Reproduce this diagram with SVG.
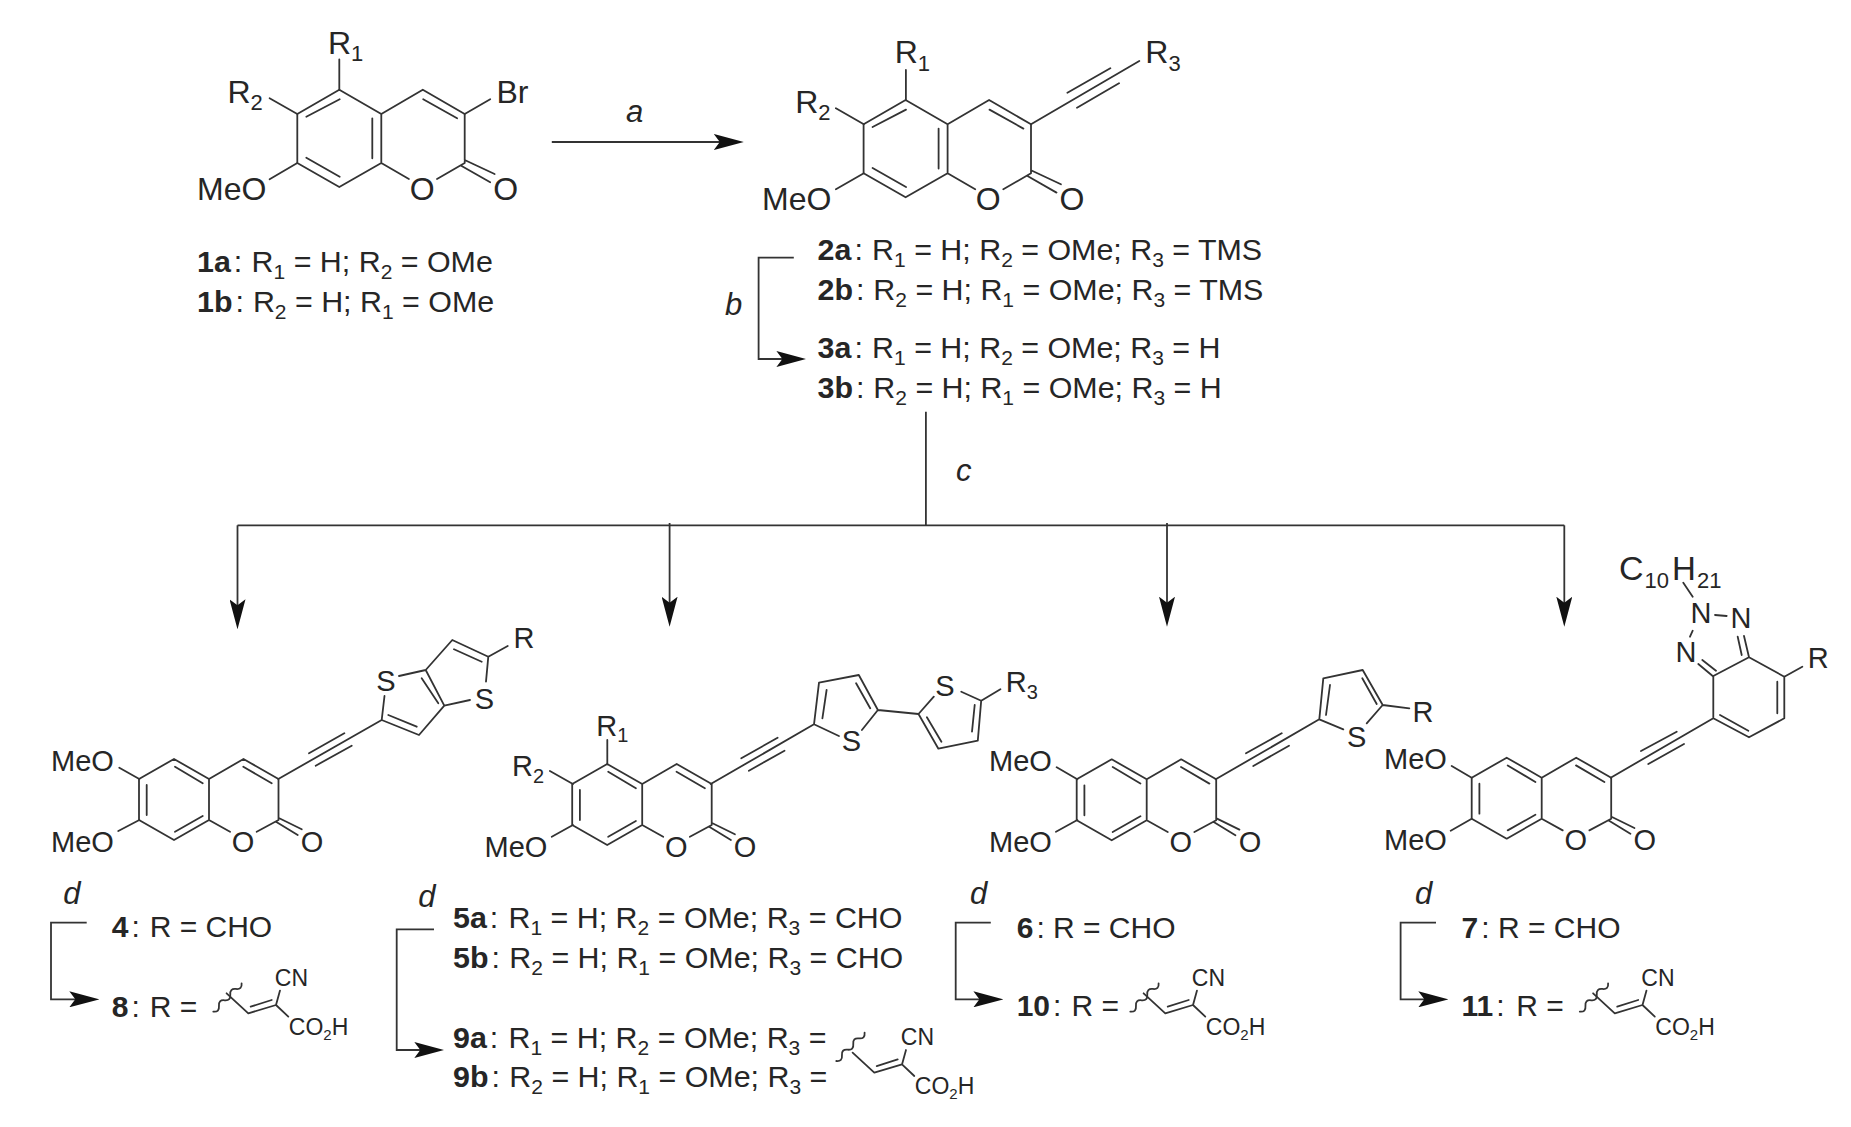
<svg xmlns="http://www.w3.org/2000/svg" xmlns:xlink="http://www.w3.org/1999/xlink" width="1851" height="1127" viewBox="0 0 1851 1127">
<style>
text{font-family:"Liberation Sans",Arial,sans-serif;fill:#262626;white-space:pre}
.bond{fill:none;stroke:#333;stroke-width:1.8;stroke-linecap:round;stroke-linejoin:round}
.arrow{fill:none;stroke:#333;stroke-width:1.8}
.L{font-size:32px}.m{font-size:29px}.p{font-size:30px}.q{font-size:30.4px}
.ms{font-size:20px}.ls{font-size:21px}.xs{font-size:22px}
.i{font-size:31px;font-style:italic}
.b{font-weight:bold}
.a{font-size:23px}.as{font-size:15px}
.c{text-anchor:middle}
</style>
<defs>
<marker id="head" markerUnits="userSpaceOnUse" markerWidth="30" markerHeight="16" viewBox="0 0 30 16" refX="24" refY="8" orient="auto"><path d="M0,0L30,8L0,16L6,8Z" fill="#111"/></marker>
<path id="coumA" class="bond" d="M0,0L-42,-24.3L-84,0V49L-42,73L0,49ZM0,0L41.5,-24.3L83.4,0V49L55.7,65M0,49L27.6,65M-75,2.7L-41.6,-14.7M-9,4.3V44.3M-75,43.7L-41.6,62.7M41.9,-14.7L75.8,4.3M83.4,46L113.3,60M79.9,51.7L108.9,68.3"/>
<path id="coumB" class="bond" d="M0,0L-35,-20L-70,0V41L-35,61L0,41ZM0,0L34.5,-20L69.5,0V41L47.7,52.7M0,41L21,52.7M-34,-12.3L-6.3,4.3M-62.3,6V36M-34,52.7L-6.3,37M34.3,-12.3L62.7,4.3M70.3,39.3L92.7,50.3M67,42.7L88.7,56"/>
<path id="wave" class="bond" d="M-35,-1.7q6.3,.7 5.66,-5.66t5.66,-5.66t5.66,-5.66t5.66,-5.66t5.66,-5.66"/>
<g id="acid">
<path class="bond" d="M-21.7,-20L0,0L27.7,-8.3L40,3.3M27.7,-8.3L31.7,-22.7M2.4,-6.6L23.4,-13.3"/>
<text class="a" x="26.5" y="-27.6">CN</text>
<text class="a" x="40.5" y="21.7">CO<tspan class="as" dy="5">2</tspan><tspan dy="-5">H</tspan></text>
</g>
</defs>
<rect width="1851" height="1127" fill="#fff"/>

<g id="connectors">
<path class="arrow" d="M551.8,142H737.8" marker-end="url(#head)"/>
<path class="arrow" d="M793.8,257.7H758.6V359H800.4" marker-end="url(#head)"/>
<path class="arrow" d="M925.9,411.7V525.3"/>
<path class="arrow" stroke-width="2.2" d="M237.5,525.3H1564.3"/>
<path class="arrow" d="M237.5,525.3V623.3" marker-end="url(#head)"/>
<path class="arrow" d="M669.6,523V620.7" marker-end="url(#head)"/>
<path class="arrow" d="M1167,523V620.7" marker-end="url(#head)"/>
<path class="arrow" d="M1564.3,525.3V620.7" marker-end="url(#head)"/>
<path class="arrow" d="M86.7,922.7H51V999.3H93.3" marker-end="url(#head)"/>
<path class="arrow" d="M434,929.3H396.7V1050H438.3" marker-end="url(#head)"/>
<path class="arrow" d="M990.8,922.7H955.7V999.3H997.4" marker-end="url(#head)"/>
<path class="arrow" d="M1436,922.7H1400.6V999.3H1442.3" marker-end="url(#head)"/>
</g>

<g id="reagents">
<text class="i" x="626" y="121.7">a</text>
<text class="i" x="724.9" y="315">b</text>
<text class="i" x="956" y="480.7">c</text>
<text class="i" x="63.3" y="904.3">d</text>
<text class="i" x="418.3" y="906.7">d</text>
<text class="i" x="970" y="904.3">d</text>
<text class="i" x="1415" y="904.3">d</text>
</g>

<g id="compound-1">
<use href="#coumA" x="381.3" y="114"/>
<path class="bond" d="M339.3,90V59.3M297.3,114L269.6,98.3M464.7,114L490.2,99.3M297.3,163L269.6,179.3"/>
<text class="L" x="328" y="54.3">R<tspan class="xs" dy="7">1</tspan></text>
<text class="L" x="227.5" y="103.3">R<tspan class="xs" dy="7">2</tspan></text>
<text class="L" x="496.5" y="103.3">Br</text>
<text class="L" x="197" y="200">MeO</text>
<text class="L c" x="422.3" y="200">O</text>
<text class="L c" x="505.8" y="200">O</text>
</g>
<g id="label-1">
<text class="q" x="197" y="271.7"><tspan class="b">1a</tspan><tspan dx="3">:</tspan><tspan x="251.6">R</tspan><tspan class="ls" dy="7">1</tspan><tspan dy="-7"> = H; R</tspan><tspan class="ls" dy="7">2</tspan><tspan dy="-7"> = OMe</tspan></text>
<text class="q" x="197" y="311.7"><tspan class="b">1b</tspan><tspan dx="3">:</tspan><tspan x="252.9">R</tspan><tspan class="ls" dy="7">2</tspan><tspan dy="-7"> = H; R</tspan><tspan class="ls" dy="7">1</tspan><tspan dy="-7"> = OMe</tspan></text>
</g>

<g id="compound-2">
<use href="#coumA" x="947.6" y="124.3"/>
<path class="bond" d="M905.9,100V70M863.8,124.3L835.9,108.3M863.8,173.3L835.9,189.3M1031,124.3L1139.3,61M1067.4,92.7L1110.3,68.3M1077,107.7L1119,83.3"/>
<text class="L" x="894.7" y="63.3">R<tspan class="xs" dy="8">1</tspan></text>
<text class="L" x="795.2" y="113.3">R<tspan class="xs" dy="7">2</tspan></text>
<text class="L" x="1145.3" y="63.3">R<tspan class="xs" dy="8">3</tspan></text>
<text class="L" x="762" y="210">MeO</text>
<text class="L c" x="988.2" y="210">O</text>
<text class="L c" x="1072" y="210">O</text>
</g>
<g id="label-2-3">
<text class="q" x="817.6" y="260"><tspan class="b">2a</tspan><tspan dx="3">:</tspan><tspan x="872.1">R</tspan><tspan class="ls" dy="7">1</tspan><tspan dy="-7"> = H; R</tspan><tspan class="ls" dy="7">2</tspan><tspan dy="-7"> = OMe; R</tspan><tspan class="ls" dy="7">3</tspan><tspan dy="-7"> = TMS</tspan></text>
<text class="q" x="817.6" y="300"><tspan class="b">2b</tspan><tspan dx="3">:</tspan><tspan x="873.3">R</tspan><tspan class="ls" dy="7">2</tspan><tspan dy="-7"> = H; R</tspan><tspan class="ls" dy="7">1</tspan><tspan dy="-7"> = OMe; R</tspan><tspan class="ls" dy="7">3</tspan><tspan dy="-7"> = TMS</tspan></text>
<text class="q" x="817.6" y="358.3"><tspan class="b">3a</tspan><tspan dx="3">:</tspan><tspan x="872.1">R</tspan><tspan class="ls" dy="7">1</tspan><tspan dy="-7"> = H; R</tspan><tspan class="ls" dy="7">2</tspan><tspan dy="-7"> = OMe; R</tspan><tspan class="ls" dy="7">3</tspan><tspan dy="-7"> = H</tspan></text>
<text class="q" x="817.6" y="398.3"><tspan class="b">3b</tspan><tspan dx="3">:</tspan><tspan x="873.3">R</tspan><tspan class="ls" dy="7">2</tspan><tspan dy="-7"> = H; R</tspan><tspan class="ls" dy="7">1</tspan><tspan dy="-7"> = OMe; R</tspan><tspan class="ls" dy="7">3</tspan><tspan dy="-7"> = H</tspan></text>
</g>

<g id="compound-4">
<use href="#coumB" x="209" y="779"/>
<path class="bond" d="M139.3,779L119.3,767.7M139.3,820L118.3,831M278.3,779L381.7,720M309,753.3L344.3,733.3M315.7,765.7L351.7,745.7M381.7,720L419,735L444.3,705.7L425.7,670L452.3,640L488.3,656.7L486,681.7M381.7,720L384.5,696M399,676L425.7,670M444.3,705.7L470,700M388.3,715L416.7,726.7M421.7,678.3L438.3,703.3M454,649.3L481.7,661.7M488.3,656.7L507.7,646"/>
<text class="m" x="51" y="770.7">MeO</text>
<text class="m" x="51" y="851.7">MeO</text>
<text class="m c" x="243" y="851.7">O</text>
<text class="m c" x="312" y="851.7">O</text>
<text class="m c" x="386" y="690.7">S</text>
<text class="m c" x="484.3" y="709">S</text>
<text class="m" x="513.5" y="648.3">R</text>
</g>
<g id="label-4-8">
<text class="p" x="111.7" y="937.3"><tspan class="b">4</tspan><tspan dx="3">:</tspan><tspan x="149.7">R = CHO</tspan></text>
<text class="p" x="111.7" y="1016.7"><tspan class="b">8</tspan><tspan dx="3">:</tspan><tspan x="149.7">R =</tspan></text>
<use href="#wave" x="248.3" y="1013.3"/>
<use href="#acid" x="248.3" y="1013.3"/>
</g>

<g id="compound-5">
<use href="#coumB" x="642.2" y="784"/>
<path class="bond" d="M607.3,764.3V740M572.9,784L549.9,771M572.9,825L551.8,836.7M710.7,784L814,724.3M741.3,758.3L777.6,737.7M748.9,770.7L784.5,750.7M814,724.3L819,682.7L858.8,675L877.9,710L861.9,730M814,724.3L838.9,736M826.6,690L822.4,718.3M856.1,683.3L870.2,708.3M877.9,710L918.5,714L938.4,748.7L977.8,740.7L981.2,700.7L961.3,691.7M918.5,714L933.8,696.7M926.9,717.3L941.4,741.7M972,731.7L974.7,705M981.2,700.7L1000.4,689.3"/>
<text class="m" x="596.3" y="736">R<tspan class="ms" dy="6">1</tspan></text>
<text class="m" x="512.1" y="775.7">R<tspan class="ms" dy="7">2</tspan></text>
<text class="m" x="484.5" y="856.7">MeO</text>
<text class="m c" x="676.2" y="856.7">O</text>
<text class="m c" x="745" y="856.7">O</text>
<text class="m c" x="851.5" y="750.7">S</text>
<text class="m c" x="944.9" y="695.7">S</text>
<text class="m" x="1005.8" y="692.3">R<tspan class="ms" dy="7">3</tspan></text>
</g>
<g id="label-5-9">
<text class="q" x="453" y="928.3"><tspan class="b">5a</tspan><tspan dx="3">:</tspan><tspan x="508.5">R</tspan><tspan class="ls" dy="7">1</tspan><tspan dy="-7"> = H; R</tspan><tspan class="ls" dy="7">2</tspan><tspan dy="-7"> = OMe; R</tspan><tspan class="ls" dy="7">3</tspan><tspan dy="-7"> = CHO</tspan></text>
<text class="q" x="453" y="968.3"><tspan class="b">5b</tspan><tspan dx="3">:</tspan><tspan x="509.3">R</tspan><tspan class="ls" dy="7">2</tspan><tspan dy="-7"> = H; R</tspan><tspan class="ls" dy="7">1</tspan><tspan dy="-7"> = OMe; R</tspan><tspan class="ls" dy="7">3</tspan><tspan dy="-7"> = CHO</tspan></text>
<text class="q" x="453" y="1048.3"><tspan class="b">9a</tspan><tspan dx="3">:</tspan><tspan x="508.5">R</tspan><tspan class="ls" dy="7">1</tspan><tspan dy="-7"> = H; R</tspan><tspan class="ls" dy="7">2</tspan><tspan dy="-7"> = OMe; R</tspan><tspan class="ls" dy="7">3</tspan><tspan dy="-7"> =</tspan></text>
<text class="q" x="453" y="1087.3"><tspan class="b">9b</tspan><tspan dx="3">:</tspan><tspan x="509.3">R</tspan><tspan class="ls" dy="7">2</tspan><tspan dy="-7"> = H; R</tspan><tspan class="ls" dy="7">1</tspan><tspan dy="-7"> = OMe; R</tspan><tspan class="ls" dy="7">3</tspan><tspan dy="-7"> =</tspan></text>
<use href="#wave" x="871.3" y="1062.7"/>
<use href="#acid" x="874.3" y="1072.7"/>
</g>

<g id="compound-6">
<use href="#coumB" x="1146.7" y="779.3"/>
<path class="bond" d="M1077.3,779.3L1056.7,767.3M1077.3,820L1056,831.7M1215.7,779.3L1319.3,719.3M1246,753.3L1281.7,733.3M1253.3,766L1289,745.7M1319.3,719.3L1323.3,678.3L1362.7,670L1382.7,705L1366.7,723.3M1319.3,719.3L1343.3,729.3M1330,685L1326,715M1362.3,678.3L1376.7,704M1382.7,705L1409.3,708.3"/>
<text class="m" x="989" y="771">MeO</text>
<text class="m" x="989" y="851.7">MeO</text>
<text class="m c" x="1180.7" y="851.7">O</text>
<text class="m c" x="1250" y="851.7">O</text>
<text class="m c" x="1356.7" y="746.7">S</text>
<text class="m" x="1412.5" y="721.7">R</text>
</g>
<g id="label-6-10">
<text class="p" x="1016.7" y="937.7"><tspan class="b">6</tspan><tspan dx="3">:</tspan><tspan x="1053">R = CHO</tspan></text>
<text class="p" x="1016.7" y="1016"><tspan class="b">10</tspan><tspan dx="3">:</tspan><tspan x="1071.4">R =</tspan></text>
<use href="#wave" x="1165.3" y="1013.3"/>
<use href="#acid" x="1165.3" y="1013.3"/>
</g>

<g id="compound-7">
<use href="#coumB" x="1541.7" y="777.7"/>
<path class="bond" d="M1471.7,777.7L1451.7,766M1471.7,818.7L1450.7,830.7M1610.7,777.7L1713.3,718.3M1641,751L1676.7,731.7M1648.3,764L1684,744M1713.3,718.3V676L1749,657.3L1784.3,676.7V718.3L1749,737.3ZM1720,715L1748.3,730.7M1777.3,681.7V713.3M1712.7,676L1698.3,664M1716,670.7L1702.3,660M1749,657.3L1744,636M1741.7,655L1737.7,636.7M1715,615L1726.7,616M1692.7,630.7L1690,636.7M1692.7,596.7L1683.3,582.7M1784.3,676.7L1802.3,666.7"/>
<text class="m" x="1384" y="769.3">MeO</text>
<text class="m" x="1384" y="850">MeO</text>
<text class="m c" x="1575.7" y="850.4">O</text>
<text class="m c" x="1644.7" y="850.4">O</text>
<text class="m c" x="1686" y="661.7">N</text>
<text class="m c" x="1701" y="623.3">N</text>
<text class="m c" x="1741" y="628.3">N</text>
<text class="m" x="1807.8" y="668.3">R</text>
<text class="L" x="1619" y="580" font-size="34" style="font-size:34px">C<tspan class="xs" x="1644.5" dy="7.7">10</tspan><tspan style="font-size:33px" x="1672" dy="-7.7">H</tspan><tspan class="xs" x="1697" dy="7.7">21</tspan></text>
</g>
<g id="label-7-11">
<text class="p" x="1461.6" y="937.7"><tspan class="b">7</tspan><tspan dx="3">:</tspan><tspan x="1498">R = CHO</tspan></text>
<text class="p" x="1461.6" y="1016"><tspan class="b">11</tspan><tspan dx="3">:</tspan><tspan x="1516.3">R =</tspan></text>
<use href="#wave" x="1614.8" y="1013.3"/>
<use href="#acid" x="1614.8" y="1013.3"/>
</g>
</svg>
